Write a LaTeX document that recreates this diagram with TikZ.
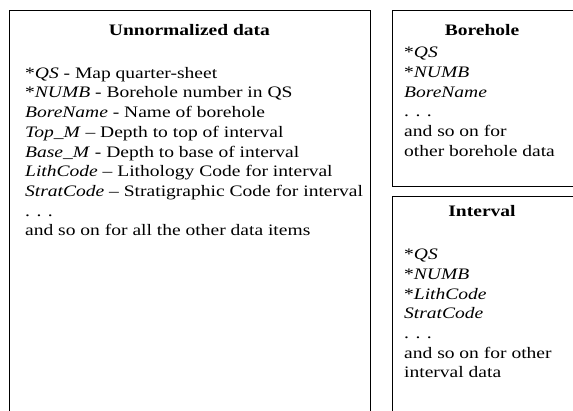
\documentclass[tikz,border=0pt]{standalone}
\usepackage{fontspec}
\setmainfont{Liberation Serif}[FakeStretch=1.22]
\usetikzlibrary{positioning}

\begin{document}
\begin{tikzpicture}[x=1pt,y=1pt,
 box/.style={draw=black,line width=1pt,anchor=north west,inner sep=0pt},
 head/.style={font=\fontsize{16}{19.7}\selectfont\bfseries,inner sep=0pt,anchor=base},
 body/.style={font=\fontsize{16}{19.7}\selectfont,align=left,inner sep=0pt,anchor=north west}]
 \useasboundingbox (0,0) rectangle (573,411);
 % the three tables, open where the page ends
 \node[box,minimum width=361pt,minimum height=430pt] (unnorm) at (9,401) {};
 \node[box,minimum width=190pt,minimum height=176pt] (bore) at (392,401) {};
 \node[box,minimum width=190pt,minimum height=230pt] (intv) at (392,215) {};
 % headings
 \node[head] (unnormhead) at (189.5,375) {Unnormalized data};
 \node[head] (borehead) at (482,375) {Borehole};
 \node[head] (intvhead) at (482,194) {Interval};
 % fields
 \node[body] (unnormbody) at (25,344) {*\textit{QS} - Map quarter-sheet\\
 *\textit{NUMB} - Borehole number in QS\\
 \textit{BoreName} - Name of borehole\\
 \textit{Top\_M} -- Depth to top of interval\\
 \textit{Base\_M} - Depth to base of interval\\
 \textit{LithCode} -- Lithology Code for interval\\
 \textit{StratCode} -- Stratigraphic Code for interval\\
 . . .\\
 and so on for all the other data items};
 \node[body] (borebody) at (404,364) {*\textit{QS}\\
 *\textit{NUMB}\\
 \textit{BoreName}\\
 . . .\\
 and so on for\\
 other borehole data};
 \node[body] (intvbody) at (404,162) {*\textit{QS}\\
 *\textit{NUMB}\\
 *\textit{LithCode}\\
 \textit{StratCode}\\
 . . .\\
 and so on for other\\
 interval data};
\end{tikzpicture}
\end{document}
